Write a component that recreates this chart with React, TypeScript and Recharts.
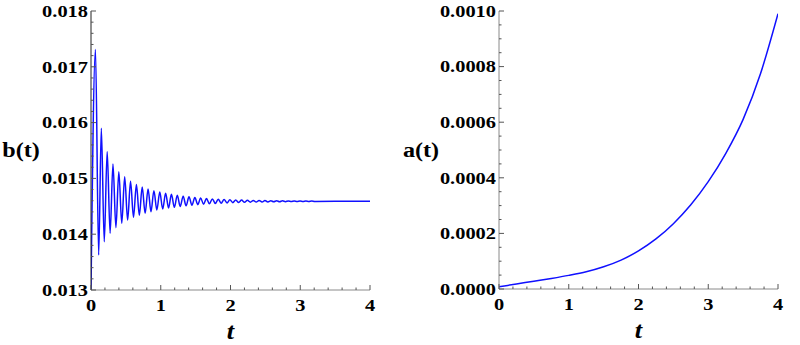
import { Label, Line, LineChart, XAxis, YAxis } from "recharts"

const bTime = [
  0, 0.064, 0.11, 0.148, 0.19, 0.232, 0.274, 0.315, 0.357, 0.399, 0.441, 0.483, 0.525, 0.567, 0.609,
  0.651, 0.693, 0.734, 0.776, 0.818, 0.86, 0.902, 0.944, 0.986, 1.028, 1.07, 1.112, 1.153, 1.195,
  1.237, 1.279, 1.321, 1.363, 1.405, 1.447, 1.489, 1.531, 1.572, 1.614, 1.656, 1.698, 1.74, 1.782,
  1.824, 1.866, 1.908, 1.95, 1.991, 2.033, 2.075, 2.117, 2.159, 2.201, 2.243, 2.285, 2.327, 2.369,
  2.41, 2.452, 2.494, 2.536, 2.578, 2.62, 2.662, 2.704, 2.746, 2.788, 2.829, 2.871, 2.913, 2.955,
  2.997, 3.039, 3.081, 3.123, 3.165, 3.207, 3.5, 4.0,
]
const bValue = [
  0.013,
  0.01731, 0.013627, 0.0159, 0.013866, 0.01548, 0.014016, 0.01526, 0.014117, 0.01512, 0.014195,
  0.01503, 0.014254, 0.01495, 0.014302, 0.01489, 0.014338, 0.014846, 0.014374, 0.01481, 0.014404,
  0.01478, 0.014434, 0.014756, 0.014452, 0.014733, 0.01447, 0.014715, 0.014482, 0.014698, 0.014496,
  0.014682, 0.014508, 0.01467, 0.01452, 0.014658, 0.01453, 0.014648, 0.014538, 0.01464, 0.014545,
  0.014633, 0.014551, 0.014627, 0.014556, 0.014622, 0.014561, 0.014618, 0.014565, 0.014614, 0.014568,
  0.014611, 0.014571, 0.014608, 0.014574, 0.014606, 0.014576, 0.014604, 0.014578, 0.014602, 0.014579,
  0.0146, 0.014581, 0.014599, 0.014582, 0.014598, 0.014583, 0.014597, 0.014584, 0.014596, 0.014585,
  0.014595, 0.014586, 0.014594, 0.014587, 0.014593, 0.014587,
  0.01459, 0.01459,
]

// a(t)
const aTime = [0, 0.25, 0.5, 0.75, 1, 1.25, 1.5, 1.75, 2, 2.25, 2.5, 2.75, 3, 3.25, 3.5, 3.75, 4]
const aValue = [
  0.000008, 0.000018, 0.000028, 0.000038, 0.000049, 0.000062, 0.00008, 0.000104, 0.000137,
  0.00018, 0.000235, 0.000303, 0.000386, 0.000487, 0.00061, 0.000775, 0.00099,
]

const tMajor = [0, 1, 2, 3, 4]
const tMinor = [0.2, 0.4, 0.6, 0.8, 1.2, 1.4, 1.6, 1.8, 2.2, 2.4, 2.6, 2.8, 3.2, 3.4, 3.6, 3.8]
const bMajor = [0.013, 0.014, 0.015, 0.016, 0.017, 0.018]
const bMinor = [
  0.0132, 0.0134, 0.0136, 0.0138, 0.0142, 0.0144, 0.0146, 0.0148, 0.0152, 0.0154, 0.0156, 0.0158,
  0.0162, 0.0164, 0.0166, 0.0168, 0.0172, 0.0174, 0.0176, 0.0178,
]
const aMajor = [0, 0.0002, 0.0004, 0.0006, 0.0008, 0.001]
const aMinor = [
  0.00005, 0.0001, 0.00015, 0.00025, 0.0003, 0.00035, 0.00045, 0.0005, 0.00055, 0.00065, 0.0007,
  0.00075, 0.00085, 0.0009, 0.00095,
]

const bData = bTime.map((t, i) => ({ t, b: bValue[i] }))
const aData = aTime.map((t, i) => ({ t, a: aValue[i] }))

const FONT = '"Liberation Serif", Tinos, "Times New Roman", serif'
const FRAME = "#8a8a8a"
const TICK = "#555"

const txt = (size: number, italic = false) => ({
  fontFamily: FONT,
  fontWeight: 700,
  fontStyle: italic ? "italic" : "normal",
  fontSize: size,
  fill: "#000",
})

type Side = "bottom" | "top" | "left" | "right"

function makeTick(side: Side, majors: number[], fmt?: (v: number) => string) {
  return (props: any) => {
    const { x, y, payload } = props
    const v = payload.value as number
    const major = majors.some((m) => Math.abs(m - v) < 1e-9)
    const len = major ? 5 : 2.5
    let x2 = x
    let y2 = y
    if (side === "bottom") y2 = y - len
    if (side === "top") y2 = y + len
    if (side === "left") x2 = x + len
    if (side === "right") x2 = x - len
    let label = null
    if (major && fmt) {
      if (side === "bottom") {
        label = (
          <text transform={`translate(${x} ${y + 21}) scale(1.2 1)`} textAnchor="middle" style={txt(17)}>
            {fmt(v)}
          </text>
        )
      } else if (side === "left") {
        label = (
          <text
            transform={`translate(${x - 3} ${y}) scale(1.2 1)`}
            textAnchor="end"
            dominantBaseline="central"
            style={txt(17)}
          >
            {fmt(v)}
          </text>
        )
      }
    }
    return (
      <g>
        <line x1={x} y1={y} x2={x2} y2={y2} stroke={TICK} strokeWidth={1} />
        {label}
      </g>
    )
  }
}

const yTitle = (text: string) => (props: any) => {
  const vb = props.viewBox
  return (
    <text
      transform={`translate(${vb.x + 21} ${vb.y + vb.height / 2}) scale(1.15 1)`}
      textAnchor="middle"
      dominantBaseline="central"
      style={txt(21)}
    >
      {text}
    </text>
  )
}

const xTitle = (props: any) => {
  const vb = props.viewBox
  return (
    <text
      transform={`translate(${vb.x + vb.width / 2} ${vb.y + 49}) scale(1.15 1)`}
      textAnchor="middle"
      style={txt(23, true)}
    >
      t
    </text>
  )
}

function Panel({
  data,
  dataKey,
  title,
  yDomain,
  yMajor,
  yMinor,
  yFmt,
  yAxisWidth,
  rightMargin,
  bottom,
  leftAxisColor,
}: {
  data: any[]
  dataKey: string
  title: string
  yDomain: [number, number]
  yMajor: number[]
  yMinor: number[]
  yFmt: (v: number) => string
  yAxisWidth: number
  rightMargin: number
  bottom: number
  leftAxisColor: string
}) {
  const xTicks = [...tMajor, ...tMinor].sort((p, q) => p - q)
  const yTicks = [...yMajor, ...yMinor].sort((p, q) => p - q)
  return (
    <LineChart width={400} height={345} data={data} margin={{ top: 11, right: rightMargin, bottom: 0, left: 0 }}>
      <XAxis
        dataKey="t"
        type="number"
        domain={[0, 4]}
        allowDataOverflow
        ticks={xTicks}
        interval={0}
        height={bottom}
        tickSize={0}
        tickMargin={0}
        tickLine={false}
        axisLine={{ stroke: FRAME }}
        tick={makeTick("bottom", tMajor, (v) => String(v))}
      >
        <Label content={xTitle} />
      </XAxis>
      <XAxis
        xAxisId="top"
        orientation="top"
        dataKey="t"
        type="number"
        domain={[0, 4]}
        allowDataOverflow
        ticks={xTicks}
        interval={0}
        height={0}
        tickSize={0}
        tickMargin={0}
        tickLine={false}
        axisLine={{ stroke: FRAME }}
        tick={makeTick("top", tMajor)}
      />
      <YAxis
        type="number"
        domain={yDomain}
        allowDataOverflow
        ticks={yTicks}
        interval={0}
        width={yAxisWidth}
        tickSize={0}
        tickMargin={0}
        tickLine={false}
        axisLine={{ stroke: leftAxisColor }}
        tick={makeTick("left", yMajor, yFmt)}
      >
        <Label content={yTitle(title)} />
      </YAxis>
      <YAxis
        yAxisId="right"
        orientation="right"
        type="number"
        domain={yDomain}
        allowDataOverflow
        ticks={yTicks}
        interval={0}
        width={0}
        tickSize={0}
        tickMargin={0}
        tickLine={false}
        axisLine={{ stroke: FRAME }}
        tick={makeTick("right", yMajor)}
      />
      <Line
        dataKey={dataKey}
        type="monotone"
        stroke="#1010ff"
        strokeWidth={1.5}
        dot={false}
        activeDot={false}
        isAnimationActive={false}
      />
    </LineChart>
  )
}

export default function App() {
  return (
    <div style={{ position: "absolute", left: 0, top: 0, width: 800, height: 345, background: "#fff" }}>
      <div style={{ position: "absolute", left: 0, top: 0 }}>
        <Panel
          data={bData}
          dataKey="b"
          title="b(t)"
          yDomain={[0.013, 0.018]}
          yMajor={bMajor}
          yMinor={bMinor}
          yFmt={(v) => v.toFixed(3)}
          yAxisWidth={91}
          rightMargin={30}
          bottom={55}
          leftAxisColor="#222"
        />
      </div>
      <div style={{ position: "absolute", left: 400, top: 0 }}>
        <Panel
          data={aData}
          dataKey="a"
          title="a(t)"
          yDomain={[0, 0.001]}
          yMajor={aMajor}
          yMinor={aMinor}
          yFmt={(v) => v.toFixed(4)}
          yAxisWidth={99}
          rightMargin={22}
          bottom={56}
          leftAxisColor={FRAME}
        />
      </div>
    </div>
  )
}
